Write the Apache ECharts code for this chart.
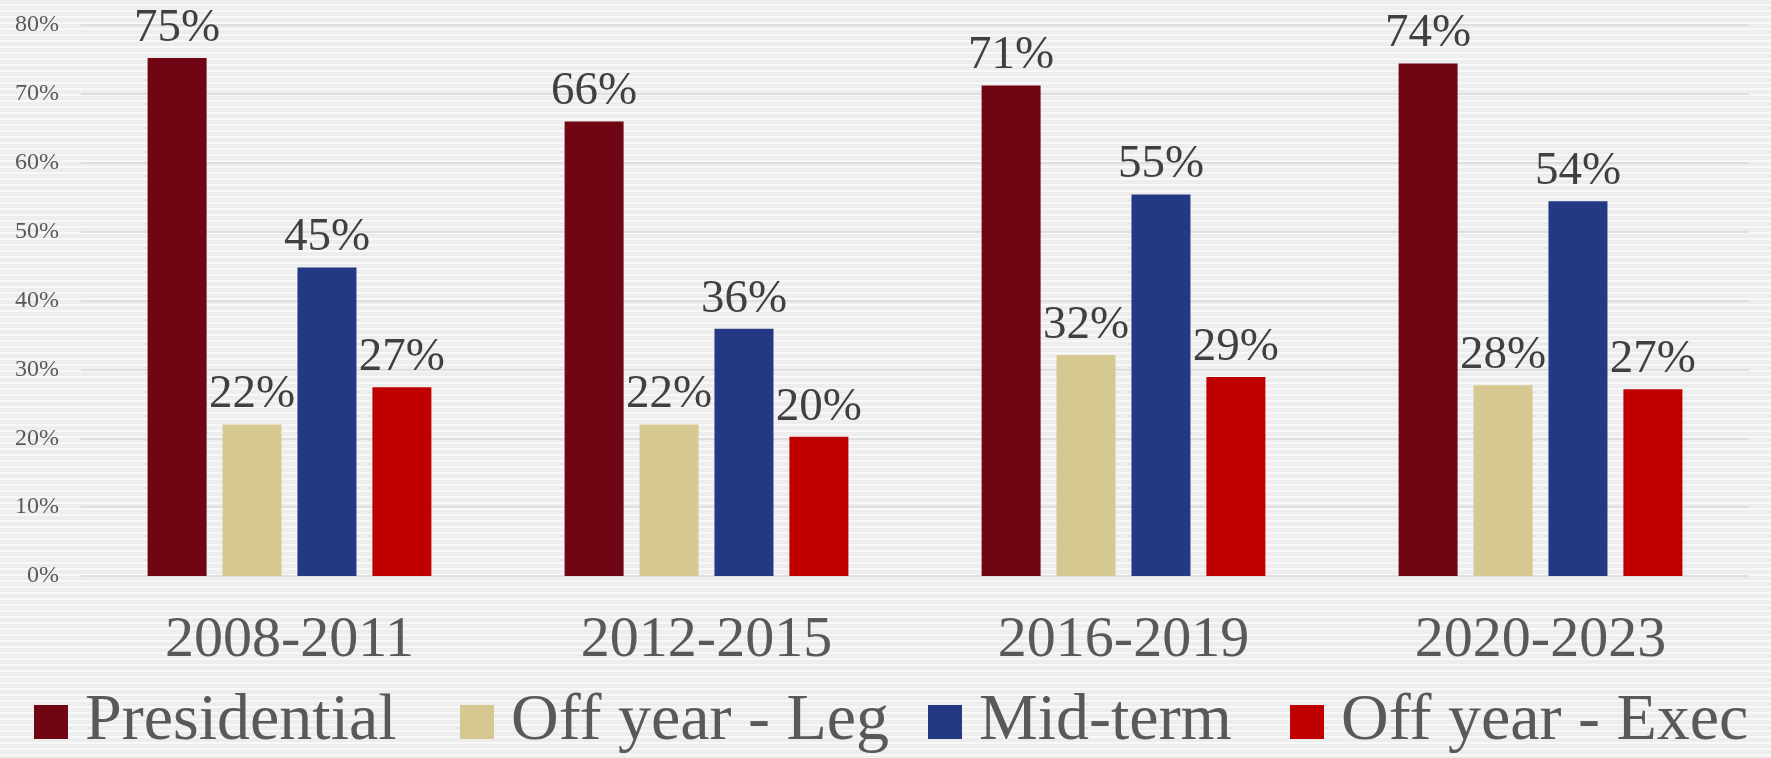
<!DOCTYPE html>
<html>
<head>
<meta charset="utf-8">
<script src="https://cdn.jsdelivr.net/npm/echarts@6/dist/echarts.min.js"></script>
<style>
  html, body {
    margin: 0;
    padding: 0;
    background: repeating-linear-gradient(to bottom, #ededed 0px, #ededed 4px, #f8f8f8 4px, #f8f8f8 6px);
  }
  #bar_main { width: 1771px; height: 758px; }
</style>
</head>
<body>
<div id="bar_main"></div>
<script>
  var categories = ['2008-2011', '2012-2015', '2016-2019', '2020-2023'];
  var seriesNames = ['Presidential', 'Off year - Leg', 'Mid-term', 'Off year - Exec'];
  var presidential = [75.2, 66.0, 71.2, 74.4];
  var offYearLeg = [22.0, 22.0, 32.1, 27.7];
  var midTerm = [44.8, 35.9, 55.4, 54.4];
  var offYearExec = [27.4, 20.2, 28.9, 27.1];
  var yTicks = [0, 10, 20, 30, 40, 50, 60, 70, 80];

  var colorList = ['#700514', '#d5c991', '#243984', '#c00000'];
  var values = [presidential, offYearLeg, midTerm, offYearExec];
  var legendLeft = [34, 460, 928, 1290];
  var font = "'Liberation Serif', Georgia, serif";

  var charts = echarts.init(document.getElementById('bar_main'));

  var series = [];
  var legends = [];
  for (var i = 0; i < seriesNames.length; i++) {
    series.push({
      name: seriesNames[i],
      type: 'bar',
      barWidth: 59,
      barGap: '27%',
      itemStyle: { color: colorList[i] },
      label: {
        show: true,
        position: 'top',
        distance: 6,
        fontFamily: font,
        fontSize: 47,
        color: '#404040',
        formatter: function (p) { return Math.round(p.value) + '%'; }
      },
      data: values[i]
    });
    legends.push({
      data: [seriesNames[i]],
      left: legendLeft[i],
      top: 689,
      padding: 0,
      itemWidth: 34,
      itemHeight: 34,
      icon: 'rect',
      textStyle: {
        fontFamily: font,
        fontSize: 66,
        lineHeight: 66,
        color: '#595959',
        padding: [0, 0, 0, 12]
      }
    });
  }

  charts.setOption({
    backgroundColor: 'transparent',
    animation: false,
    legend: legends,
    grid: {
      left: 81,
      right: 22,
      top: 25,
      bottom: 182,
      containLabel: false
    },
    xAxis: [{
      type: 'category',
      data: categories,
      axisLine: { show: false },
      axisTick: { show: false },
      axisLabel: {
        margin: 36,
        fontFamily: font,
        fontSize: 58,
        color: '#595959'
      }
    }],
    yAxis: [{
      type: 'value',
      min: yTicks[0],
      max: yTicks[yTicks.length - 1],
      interval: 10,
      axisLine: { show: false },
      axisTick: { show: false },
      axisLabel: {
        margin: 22,
        fontFamily: font,
        fontSize: 24,
        color: '#595959',
        formatter: '{value}%'
      },
      splitLine: {
        show: true,
        lineStyle: { color: '#d9d9d9', width: 1.5 }
      }
    }],
    series: series
  });
</script>
</body>
</html>
